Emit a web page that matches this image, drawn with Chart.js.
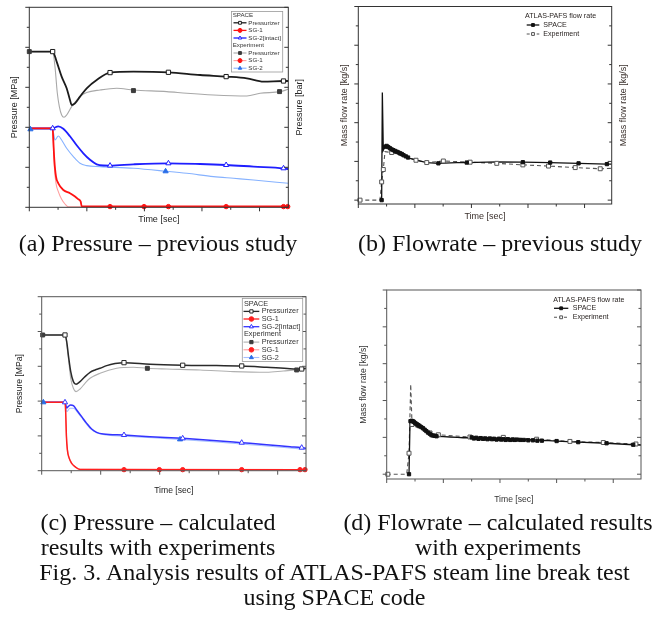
<!DOCTYPE html>
<html><head><meta charset="utf-8">
<script src="https://cdn.jsdelivr.net/npm/chart.js@4.4.1/dist/chart.umd.min.js"></script>
<style>
html,body{margin:0;padding:0;background:#fff;}
body{width:669px;height:617px;position:relative;overflow:hidden;}
canvas{position:absolute;}
.cap{position:absolute;font-family:"Liberation Serif","Times New Roman",serif;font-size:24px;line-height:25px;text-align:center;color:#111;white-space:nowrap;z-index:2;}
</style></head><body>
<script>
// ---------- axis tick values ----------
const X_MAJOR = [0,100,200,300,400];
const X_MINOR = [50,150,250,350];
const P_MAJOR = [0,4,8,12,16,20];
const P_MINOR = [2,6,10,14,18];
const F_MAJOR = [0,1,2,3,4,5];
const F_MINOR = [0.5,1.5,2.5,3.5,4.5];

// ---------- (a) Pressure - previous study ----------
const aPzrSpaceT = [0,40.6,47.5,56.2,64.9,70.7,73.6,79.4,88.1,99.7,117.1,140.3,180.9,241.7,296.8,342,378,407,441.7,450];
const aPzrSpaceP = [15.57,15.57,14.57,13.07,11.9,10.73,10.23,10.4,11.07,11.9,12.73,13.47,13.57,13.5,13.23,13.07,12.9,12.57,12.63,12.63];
const aPzrSpaceMT = [40.6,140.3,241.7,342,441.7];
const aPzrSpaceMP = [15.57,13.47,13.5,13.07,12.63];
const aPzrExpT = [0,40.6,44.6,48.7,52.2,56.2,60.3,64.9,73.6,88.1,99.7,122.9,151.9,180.9,238.8,273.6,320,378,401,436,450];
const aPzrExpP = [15.57,15.57,14.07,11.4,10.07,9.23,9.0,9.23,10.07,11.07,11.47,11.73,11.9,11.73,11.57,11.4,11.23,11.13,11.4,11.57,11.8];
const aPzrExpMT = [0,180.9,434.8];
const aPzrExpMP = [15.57,11.67,11.57];
const aSg1SpaceT = [0,40.6,41.7,43.5,46.4,50.4,59.1,70.7,79.4,85.2,89.3,91,450];
const aSg1SpaceP = [7.9,7.9,6.73,4.73,3.07,2.4,1.73,1.4,1.07,0.8,0.57,0.08,0.08];
const aSg1SpaceMT = [140.3,199.4,241.7,342,441.7,449];
const aSg1SpaceMP = [0.07,0.07,0.07,0.07,0.07,0.07];
const aSg1ExpT = [0,40.6,41.7,43.5,46.4,50.4,56.2,62,67.8,450];
const aSg1ExpP = [7.9,7.9,6.4,4.07,2.4,1.57,0.8,0.33,0.05,0.03];
const aSg2SpaceT = [0,40.6,50.4,59.1,70.7,82.3,93.9,105.5,117.1,128.7,140.3,180.9,241.7,296.8,342,389.6,441.7,450];
const aSg2SpaceP = [7.9,7.9,8.1,7.85,7.1,6.2,5.4,4.75,4.3,4.18,4.17,4.3,4.4,4.33,4.23,4.07,3.9,3.83];
const aSg2SpaceMT = [40.6,140.3,241.7,342,441.7];
const aSg2SpaceMP = [7.9,4.17,4.4,4.23,3.9];
const aSg2ExpT = [0,40.6,44.6,50.4,56.2,64.9,76.5,88.1,99.7,122.9,180.9,238.8,273.6,320,354.8,389.6,450];
const aSg2ExpP = [7.8,7.8,6.73,7.13,6.73,5.9,5.07,4.4,4.17,4.07,3.9,3.6,3.4,3.07,2.9,2.73,2.4];
const aSg2ExpMT = [2,236.8];
const aSg2ExpMP = [7.8,3.6];

// ---------- (b) Flowrate - previous study ----------
const bSpaceT = [41.3,42.5,44.2,47.2,50.1,56,67.8,79.6,91.4,103.2,120.9,141.6,174,191.7,244.8,290.9,339.2,389.4,439.5,448];
const bSpaceV = [0,2.78,1.29,1.38,1.40,1.34,1.25,1.16,1.08,1.03,0.97,0.95,0.97,0.97,0.99,0.98,0.97,0.95,0.93,0.93];
const bSpaceMT = [41.3,47.2,50.1,53,56,59,62,65,68,71,74,77,80,84,88,141.6,191.7,290.9,339.2,389.4,439.5];
const bSpaceMV = [0,1.38,1.40,1.37,1.34,1.31,1.29,1.27,1.25,1.23,1.21,1.19,1.16,1.13,1.10,0.95,0.97,0.98,0.97,0.95,0.93];
const bExpT = [0,38.3,41.3,44.2,47.2,59,73.7,102,121,150.4,197.6,244.8,290.9,336.3,383.5,427.7,448];
const bExpV = [0,0,0.47,0.79,1.25,1.23,1.16,1.03,0.97,1.01,0.98,0.95,0.91,0.88,0.84,0.81,0.82];
const bExpMT = [3,41.3,44.2,59,102,121,150.4,197.6,244.8,290.9,336.3,383.5,427.7];
const bExpMV = [0,0.47,0.79,1.23,1.03,0.97,1.01,0.98,0.95,0.91,0.88,0.84,0.81];

// ---------- (c) Pressure - calculated ----------
const cPzrSpaceT = [0,39.5,42.4,45.2,49.2,53.7,58.2,65,73.4,81.9,90.4,98.9,110.2,124.3,139.5,183.6,239,296.6,339,381.4,420.9,440.7,448];
const cPzrSpaceP = [15.6,15.6,14.84,13.3,11.39,10.24,9.93,10.24,10.81,11.31,11.58,11.77,12.08,12.31,12.42,12.23,12.12,12.08,12.04,11.89,11.73,11.69,11.77];
const cPzrSpaceMT = [39.5,139.5,239,339,440.7];
const cPzrSpaceMP = [15.6,12.42,12.12,12.04,11.69];
const cPzrExpT = [0,39.5,45.2,49.2,53.7,58.2,65,73.4,81.9,98.9,127.1,155.4,179.1,211.9,268.4,324.9,381.4,409.6,432.2,448];
const cPzrExpP = [15.6,15.6,12.92,10.62,9.47,9.09,9.39,10.05,10.62,11.2,11.77,11.89,11.77,11.69,11.58,11.39,11.31,11.46,11.58,11.69];
const cPzrExpMT = [1.7,179.1,432.2];
const cPzrExpMP = [15.6,11.77,11.58];
const cSg1SpaceT = [0,39.5,40.7,41.8,43.5,46.3,50.8,56.5,65,448];
const cSg1SpaceP = [7.86,7.86,6.79,4.1,2.38,1.5,0.84,0.46,0.15,0.1];
const cSg1SpaceMT = [139.5,199.4,239,339,437.9,446.3];
const cSg1SpaceMP = [0.12,0.12,0.12,0.12,0.12,0.12];
const cSg1ExpT = [0,39.5,40.7,42.4,45.2,49.2,56.5,65,448];
const cSg1ExpP = [7.86,7.86,6.02,3.34,1.8,1.04,0.46,0.15,0.08];
const cSg2SpaceT = [0,39.5,42.4,45.2,49.2,53.7,59.3,67.8,76.3,84.7,93.2,104.5,139.5,183.6,239,296.6,339,381.4,420.9,440.7,448];
const cSg2SpaceP = [7.86,7.86,7.2,7.4,7.55,7.48,6.98,6.21,5.44,4.79,4.41,4.22,4.1,3.91,3.72,3.45,3.22,2.99,2.76,2.65,2.57];
const cSg2SpaceMT = [39.5,139.5,239,339,440.7];
const cSg2SpaceMP = [7.86,4.1,3.72,3.22,2.65];
const cSg2ExpT = [0,39.5,42.4,48,53.7,62.1,70.6,81.9,93.2,110.2,155.4,234.5,296.6,353.1,420.9,448];
const cSg2ExpP = [7.86,7.86,6.79,7.17,7.17,6.6,5.83,4.87,4.37,4.1,3.91,3.6,3.3,2.99,2.61,2.45];
const cSg2ExpMT = [2.8,234.5];
const cSg2ExpMP = [7.86,3.6];

// ---------- (d) Flowrate - calculated ----------
const dSpaceT = [39.4,41.2,44.1,50,58.8,70.6,79.4,88.2,100,111.8,125,135,147,151,155,159,163,167,171,175,179,183,187,191,195,199,203,207,211,215,219,223,227,231,235,239,243,247,251,255,259,263,267,271,275,279,300,338.2,388.2,435.3,449];
const dSpaceV = [0,1.44,1.45,1.39,1.3,1.16,1.05,1.03,1.02,1.01,1.0,0.99,0.99,1.01,0.96,1.0,0.95,0.99,0.95,0.99,0.94,0.98,0.94,0.98,0.93,0.97,0.93,0.97,0.93,0.96,0.92,0.96,0.92,0.96,0.92,0.95,0.91,0.95,0.91,0.94,0.91,0.94,0.9,0.93,0.9,0.92,0.9,0.87,0.84,0.8,0.79];
const dSpaceMT = [39.4,42,44,46,48,50,52,54,56,58,61,64,67,70,73,76,79,82,85,88,150,154,158,162,166,170,174,178,182,186,190,194,198,202,206,210,214,218,222,226,230,236,242,250,258,266,274,300,338.2,388.2,435.3];
const dSpaceMV = [0,1.44,1.45,1.44,1.42,1.39,1.37,1.35,1.33,1.31,1.28,1.25,1.21,1.17,1.13,1.1,1.06,1.05,1.04,1.03,1.0,0.97,0.99,0.96,0.98,0.96,0.97,0.95,0.97,0.95,0.96,0.94,0.96,0.94,0.95,0.93,0.95,0.93,0.94,0.93,0.94,0.93,0.93,0.92,0.92,0.91,0.91,0.9,0.87,0.84,0.8];
const dExpT = [0,35.3,39.4,42.4,44.7,50,64.7,76.5,91.2,147,205.9,264.7,323.5,382.4,440,449];
const dExpV = [0,0,0.57,2.44,1.35,1.3,1.19,1.12,1.07,1.01,1.0,0.95,0.89,0.86,0.82,0.8];
const dExpMT = [2,39.4,44.7,76.5,91.2,147,205.9,264.7,323.5,382.4,440];
const dExpMV = [0,0.57,1.35,1.12,1.07,1.01,1.0,0.95,0.89,0.86,0.82];

// ---------- helpers ----------
const FONT = '"Liberation Sans", Arial, sans-serif';
function pts(t, v) { return t.map((x, i) => ({x: x, y: v[i]})); }
function line(t, v, color, width, extra) {
  return Object.assign({data: pts(t, v), showLine: true, borderColor: color, backgroundColor: color,
    borderWidth: width, pointRadius: 0, fill: false, tension: 0}, extra || {});
}
function marks(t, v, style, fill, stroke, r) {
  return {data: pts(t, v), showLine: false, pointStyle: style, pointRadius: r,
    pointBackgroundColor: fill, pointBorderColor: stroke, pointBorderWidth: 1, clip: false};
}
const DECOR = {};
const decor = {
  id: 'decor',
  afterDatasetsDraw(chart) {
    const o = DECOR[chart.canvas.id]; if (!o) return;
    const {ctx, chartArea: a} = chart; const xs = chart.scales.x, ys = chart.scales.y;
    ctx.save();
    ctx.strokeStyle = o.frame; ctx.lineWidth = 1;
    ctx.strokeRect(a.left, a.top, a.right - a.left, a.bottom - a.top);
    ctx.beginPath();
    const tx = (vals, len) => vals.forEach(v => { const p = xs.getPixelForValue(v); ctx.moveTo(p, a.bottom); ctx.lineTo(p, a.bottom + len); });
    const ty = (vals, len) => vals.forEach(v => { const p = ys.getPixelForValue(v);
      ctx.moveTo(a.left, p); ctx.lineTo(a.left - len, p); ctx.moveTo(a.right, p); ctx.lineTo(a.right - len, p); });
    tx(o.xMajor, 4); tx(o.xMinor, 2.5); ty(o.yMajor, 4); ty(o.yMinor, 2.5);
    ctx.stroke();
    if (o.rightTitle) {
      ctx.save(); ctx.translate(o.rightTitle.x, (a.top + a.bottom) / 2); ctx.rotate(-Math.PI / 2);
      ctx.fillStyle = o.titleColor; ctx.font = o.titleSize + 'px ' + FONT;
      ctx.textAlign = 'center'; ctx.textBaseline = 'middle'; ctx.fillText(o.rightTitle.text, 0, 0); ctx.restore();
    }
    const L = o.legend;
    if (L) {
      if (L.box) { const b = L.box; ctx.fillStyle = '#fff'; ctx.fillRect(b[0], b[1], b[2]-b[0], b[3]-b[1]);
        ctx.strokeStyle = '#9a9a9a'; ctx.lineWidth = 0.8; ctx.strokeRect(b[0], b[1], b[2]-b[0], b[3]-b[1]); }
      ctx.font = L.size + 'px ' + FONT; ctx.textBaseline = 'middle'; ctx.textAlign = 'left';
      L.rows.forEach(r => {
        if (r.h) { ctx.fillStyle = L.color; ctx.fillText(r.h, L.hx, r.y); return; }
        const ds = chart.data.datasets[r.li];
        ctx.save(); ctx.strokeStyle = ds.borderColor; ctx.lineWidth = Math.min(ds.borderWidth, 1.3);
        ctx.setLineDash(ds.borderDash ? [3, 2] : []);
        ctx.beginPath(); ctx.moveTo(L.x0, r.y); ctx.lineTo(L.x1, r.y); ctx.stroke(); ctx.restore();
        if (r.mi != null) {
          const m = chart.data.datasets[r.mi];
          ctx.save(); ctx.fillStyle = m.pointBackgroundColor; ctx.strokeStyle = m.pointBorderColor; ctx.lineWidth = 1;
          Chart.helpers.drawPoint(ctx, {pointStyle: m.pointStyle, radius: L.mr, borderWidth: 1, rotation: 0}, (L.x0 + L.x1) / 2, r.y);
          ctx.restore();
        }
        ctx.fillStyle = L.color; ctx.fillText(r.t, L.tx, r.y);
      });
    }
    ctx.restore();
  }
};
function makeChart(id, c) {
  const cv = document.createElement('canvas');
  cv.id = id; cv.width = c.w; cv.height = c.h;
  cv.style.left = c.left + 'px'; cv.style.top = c.top + 'px';
  cv.style.width = c.w + 'px'; cv.style.height = c.h + 'px';
  document.body.appendChild(cv);
  DECOR[id] = c.decor;
  const lh = c.fs * 1.2;
  return new Chart(cv, {
    type: 'scatter',
    data: {datasets: c.datasets},
    options: {
      responsive: false, animation: false, devicePixelRatio: 1, events: [],
      layout: {padding: {left: 0, top: c.plotTop, right: c.w - c.plotRight, bottom: 0}},
      scales: {
        x: {type: 'linear', min: 0, max: c.xMax, grid: {display: false}, border: {display: false}, ticks: {display: false},
          title: {display: true, text: c.xTitle, color: c.decor.titleColor, font: {family: FONT, size: c.fs},
            padding: {top: 0, bottom: c.h - c.xTitleY - lh / 2}},
          afterFit: s => { s.height = c.h - c.plotBottom; }},
        y: {type: 'linear', min: c.yMin, max: c.yMax, grid: {display: false}, border: {display: false}, ticks: {display: false},
          title: {display: true, text: c.yTitle, color: c.decor.titleColor, font: {family: FONT, size: c.fs},
            padding: {top: c.yTitleX - lh / 2, bottom: 0}},
          afterFit: s => { s.width = c.plotLeft; }}
      },
      plugins: {legend: {display: false}, tooltip: {enabled: false}}
    },
    plugins: [decor]
  });
}
const mono = {cubicInterpolationMode: 'monotone'};
function pressureSets(p, col) {
  return [
    marks(p.pzrSMT, p.pzrSMP, 'rect', '#ffffff', col.pzrS, 3),
    marks(p.pzrEMT, p.pzrEMP, 'rect', '#3c3c3c', '#3c3c3c', 2.8),
    marks(p.sg1SMT, p.sg1SMP, 'circle', col.sg1S, col.sg1S, 2.2),
    marks(p.sg2SMT, p.sg2SMP, 'triangle', '#ffffff', col.sg2S, 3),
    marks(p.sg2EMT, p.sg2EMP, 'triangle', '#2a6ee8', '#2a6ee8', 3),
    line(p.pzrST, p.pzrSP, col.pzrS, col.w, mono),
    line(p.sg1ST, p.sg1SP, col.sg1S, col.w, mono),
    line(p.sg2ST, p.sg2SP, col.sg2S, col.w, mono),
    line(p.pzrET, p.pzrEP, col.pzrE, 1.1, mono),
    line(p.sg1ET, p.sg1EP, col.sg1E, 1.1, mono),
    line(p.sg2ET, p.sg2EP, col.sg2E, 1.1, mono)
  ];
}
function flowSets(f) {
  return [
    marks(f.sMT, f.sMV, 'rect', '#111', '#111', 2.3),
    marks(f.eMT, f.eMV, 'rect', '#ffffff', '#555', 2.8),
    line(f.sT, f.sV, '#111', 1.3),
    line(f.eT, f.eV, '#555', 1.1, {borderDash: [4, 3]})
  ];
}
function pLegendRows(ys) {
  return [
    {h: 'SPACE', y: ys[0]}, {t: 'Pressurizer', y: ys[1], li: 5, mi: 0}, {t: 'SG-1', y: ys[2], li: 6, mi: 2},
    {t: 'SG-2[intact]', y: ys[3], li: 7, mi: 3}, {h: 'Experiment', y: ys[4]},
    {t: 'Pressurizer', y: ys[5], li: 8, mi: 1}, {t: 'SG-1', y: ys[6], li: 9, mi: 2}, {t: 'SG-2', y: ys[7], li: 10, mi: 4}
  ];
}

// (a)
makeChart('ca', {
  left: 0, top: 0, w: 330, h: 232, plotLeft: 29.3, plotRight: 288.3, plotTop: 7.3, plotBottom: 207.3,
  xMax: 450, yMin: 0, yMax: 20, fs: 9, xTitle: 'Time [sec]', xTitleY: 220, yTitle: 'Pressure [MPa]', yTitleX: 15,
  datasets: pressureSets({
    pzrST: aPzrSpaceT, pzrSP: aPzrSpaceP, pzrSMT: aPzrSpaceMT, pzrSMP: aPzrSpaceMP,
    pzrET: aPzrExpT, pzrEP: aPzrExpP, pzrEMT: aPzrExpMT, pzrEMP: aPzrExpMP,
    sg1ST: aSg1SpaceT, sg1SP: aSg1SpaceP, sg1SMT: aSg1SpaceMT, sg1SMP: aSg1SpaceMP,
    sg1ET: aSg1ExpT, sg1EP: aSg1ExpP,
    sg2ST: aSg2SpaceT, sg2SP: aSg2SpaceP, sg2SMT: aSg2SpaceMT, sg2SMP: aSg2SpaceMP,
    sg2ET: aSg2ExpT, sg2EP: aSg2ExpP, sg2EMT: aSg2ExpMT, sg2EMP: aSg2ExpMP
  }, {pzrS: '#1c1c1c', pzrE: '#a8a8a8', sg1S: '#ff1212', sg1E: '#ff9e9e', sg2S: '#1f1fff', sg2E: '#86b2ff', w: 1.8}),
  decor: {frame: '#333', xMajor: X_MAJOR, xMinor: X_MINOR, yMajor: P_MAJOR, yMinor: P_MINOR,
    titleColor: '#222', titleSize: 9, rightTitle: {text: 'Pressure [bar]', x: 300},
    legend: {box: [231.5, 11.5, 282.7, 72], size: 6.2, color: '#333', hx: 232.7, x0: 233.5, x1: 246.5, tx: 248.3, mr: 2,
      rows: pLegendRows([15, 22.8, 30.4, 38, 45.6, 53, 60.6, 68.2])}}
});

// (b)
makeChart('cb', {
  left: 330, top: 0, w: 339, h: 232, plotLeft: 28.3, plotRight: 281.7, plotTop: 6.5, plotBottom: 204,
  xMax: 448, yMin: -0.1, yMax: 5, fs: 9, xTitle: 'Time [sec]', xTitleY: 216.7, yTitle: 'Mass flow rate [kg/s]', yTitleX: 15,
  datasets: flowSets({sT: bSpaceT, sV: bSpaceV, sMT: bSpaceMT, sMV: bSpaceMV, eT: bExpT, eV: bExpV, eMT: bExpMT, eMV: bExpMV}),
  decor: {frame: '#333', xMajor: X_MAJOR, xMinor: X_MINOR, yMajor: F_MAJOR, yMinor: F_MINOR,
    titleColor: '#3a302c', titleSize: 9, rightTitle: {text: 'Mass flow rate [kg/s]', x: 293.3},
    legend: {size: 7.1, color: '#2a2422', hx: 195, x0: 196.7, x1: 209.3, tx: 213.3, mr: 2,
      rows: [{h: 'ATLAS-PAFS flow rate', y: 15.7}, {t: 'SPACE', y: 25, li: 2, mi: 0}, {t: 'Experiment', y: 34, li: 3, mi: 1}]}}
});

// (c)
makeChart('cc', {
  left: 0, top: 285, w: 330, h: 225, plotLeft: 41.7, plotRight: 306, plotTop: 11.7, plotBottom: 185.7,
  xMax: 448, yMin: 0, yMax: 20, fs: 8.6, xTitle: 'Time [sec]', xTitleY: 205.7, yTitle: 'Pressure [MPa]', yTitleX: 20,
  datasets: pressureSets({
    pzrST: cPzrSpaceT, pzrSP: cPzrSpaceP, pzrSMT: cPzrSpaceMT, pzrSMP: cPzrSpaceMP,
    pzrET: cPzrExpT, pzrEP: cPzrExpP, pzrEMT: cPzrExpMT, pzrEMP: cPzrExpMP,
    sg1ST: cSg1SpaceT, sg1SP: cSg1SpaceP, sg1SMT: cSg1SpaceMT, sg1SMP: cSg1SpaceMP,
    sg1ET: cSg1ExpT, sg1EP: cSg1ExpP,
    sg2ST: cSg2SpaceT, sg2SP: cSg2SpaceP, sg2SMT: cSg2SpaceMT, sg2SMP: cSg2SpaceMP,
    sg2ET: cSg2ExpT, sg2EP: cSg2ExpP, sg2EMT: cSg2ExpMT, sg2EMP: cSg2ExpMP
  }, {pzrS: '#2a2a2a', pzrE: '#b0b0b0', sg1S: '#ff2020', sg1E: '#ff9a9a', sg2S: '#3434ff', sg2E: '#a6bfff', w: 1.5}),
  decor: {frame: '#555', xMajor: X_MAJOR, xMinor: X_MINOR, yMajor: P_MAJOR, yMinor: P_MINOR,
    titleColor: '#222', titleSize: 8.6,
    legend: {box: [242.3, 13.5, 302.7, 76.5], size: 7.3, color: '#333', hx: 244, x0: 243.5, x1: 259.3, tx: 261.7, mr: 2.3,
      rows: pLegendRows([18.8, 26.4, 34, 41.7, 49.4, 57.1, 64.8, 72.5])}}
});

// (d)
makeChart('cd', {
  left: 330, top: 285, w: 339, h: 225, plotLeft: 56.7, plotRight: 311, plotTop: 5, plotBottom: 194,
  xMax: 449, yMin: -0.13, yMax: 5, fs: 8.6, xTitle: 'Time [sec]', xTitleY: 215, yTitle: 'Mass flow rate [kg/s]', yTitleX: 33.3,
  datasets: flowSets({sT: dSpaceT, sV: dSpaceV, sMT: dSpaceMT, sMV: dSpaceMV, eT: dExpT, eV: dExpV, eMT: dExpMT, eMV: dExpMV}),
  decor: {frame: '#555', xMajor: X_MAJOR, xMinor: X_MINOR, yMajor: F_MAJOR, yMinor: F_MINOR,
    titleColor: '#333', titleSize: 8.6,
    legend: {size: 7.1, color: '#2a2422', hx: 223.3, x0: 224, x1: 238.3, tx: 242.7, mr: 2,
      rows: [{h: 'ATLAS-PAFS flow rate', y: 15}, {t: 'SPACE', y: 23.3, li: 2, mi: 0}, {t: 'Experiment', y: 32.3, li: 3, mi: 1}]}}
});
</script>
<div class="cap" style="left:0;width:316px;top:231px">(a) Pressure – previous study</div>
<div class="cap" style="left:334px;width:332px;top:231px">(b) Flowrate – previous study</div>
<div class="cap" style="left:0;width:316px;top:510px">(c) Pressure – calculated<br>results with experiments</div>
<div class="cap" style="left:330px;width:336px;top:510px">(d) Flowrate – calculated results<br>with experiments</div>
<div class="cap" style="left:0;width:669px;top:560px">Fig. 3. Analysis results of ATLAS-PAFS steam line break test<br>using SPACE code</div>
</body></html>
